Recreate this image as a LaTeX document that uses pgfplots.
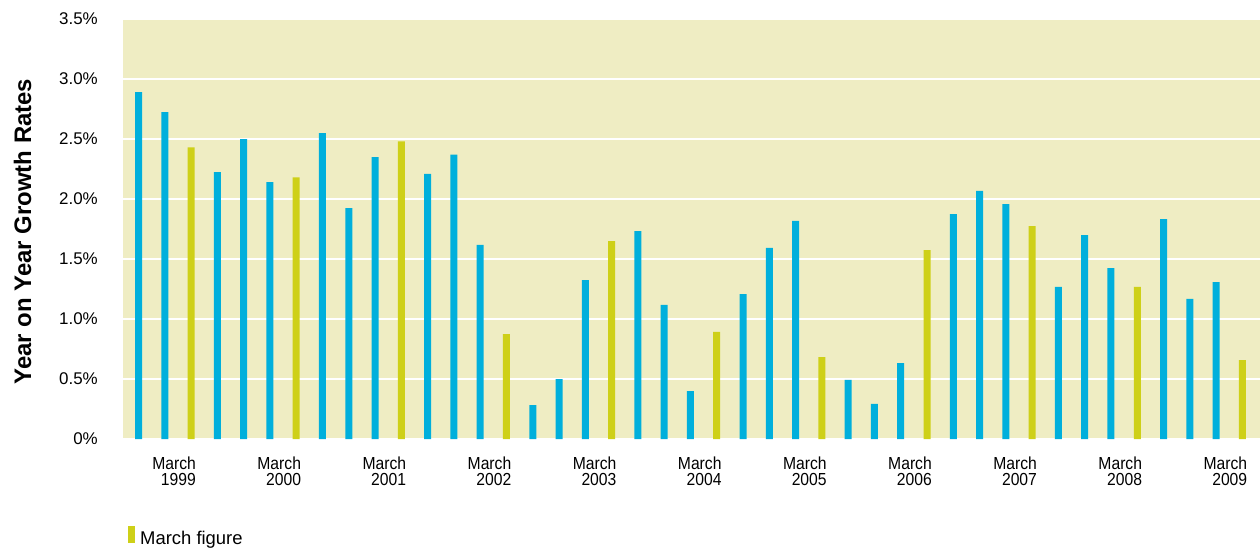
\documentclass[border=0pt]{standalone}
\usepackage{fontspec}
\setmainfont{Liberation Sans}
\newfontfamily\narrowfont[FakeStretch=0.9]{Liberation Sans}
\usepackage{pgfplots}
\pgfplotsset{compat=1.18}
\definecolor{bgcol}{RGB}{239,237,195}
\definecolor{bluecol}{RGB}{0,175,220}
\definecolor{yelcol}{RGB}{206,208,24}
\begin{document}
\begin{tikzpicture}
\begin{axis}[
  scale only axis,
  width=1137bp, height=420bp,
  xmin=-0.59, xmax=42.67,
  ymin=0, ymax=3.5,
  axis background/.style={fill=bgcol},
  axis line style={draw=none},
  major tick length=0pt,
  ymajorgrids,
  grid style={white, line width=1.4bp},
  ytick={0,0.5,1,1.5,2,2.5,3,3.5},
  yticklabels={0\%,0.5\%,1.0\%,1.5\%,2.0\%,2.5\%,3.0\%,3.5\%},
  yticklabel style={font=\fontsize{17}{17}\selectfont, anchor=east, inner sep=0pt, xshift=-25bp},
  xtick={2,6,10,14,18,22,26,30,34,38,42},
  xticklabels={March\\1999,March\\2000,March\\2001,March\\2002,March\\2003,March\\2004,March\\2005,March\\2006,March\\2007,March\\2008,March\\2009},
  xticklabel style={font=\narrowfont\fontsize{17.5}{16.5}\selectfont, align=right, anchor=north east, inner sep=0pt, xshift=5bp, yshift=-17.5bp},
  ylabel={Year on Year Growth Rates},
  ylabel style={font=\bfseries\fontsize{24}{24}\selectfont, at={(axis description cs:-0.0884,0.494)}, anchor=center, inner sep=0pt},
  legend style={at={(axis description cs:0,0)}, anchor=west, xshift=5bp, yshift=-97bp, draw=none, fill=none, font=\fontsize{18.5}{18.5}\selectfont, inner sep=0pt, nodes={inner xsep=5bp, inner ysep=0pt}},
  legend cell align=left,
]
\addplot[ybar, bar width=7bp, bar shift=0pt, fill=bluecol, draw=none, forget plot] coordinates {
(0,2.89) (1,2.725) (3,2.225) (4,2.50) (5,2.14) (7,2.55) (8,1.925) (9,2.35)
(11,2.21) (12,2.37) (13,1.617) (15,0.283) (16,0.50) (17,1.325) (19,1.733)
(20,1.117) (21,0.40) (23,1.208) (24,1.592) (25,1.817) (27,0.492) (28,0.292)
(29,0.633) (31,1.875) (32,2.067) (33,1.958) (35,1.267) (36,1.70) (37,1.425)
(39,1.833) (40,1.167) (41,1.308)
};
\addplot[ybar, bar width=7bp, bar shift=0pt, fill=yelcol, draw=none,
  legend image code/.code={\fill[yelcol] (0bp,-4.5bp) rectangle (7bp,12.5bp);}] coordinates {
(2,2.43) (6,2.18) (10,2.48) (14,0.875) (18,1.65) (22,0.892) (26,0.683)
(30,1.575) (34,1.775) (38,1.267) (42,0.658)
};
\addlegendentry{March figure}
\end{axis}
\pgfresetboundingbox
\path (current axis.south west) ++(-123bp,-110bp) coordinate (bl);
\path (current axis.north east) ++(0bp,19bp) coordinate (tr);
\path[use as bounding box] (bl) rectangle (tr);
\end{tikzpicture}
\end{document}
